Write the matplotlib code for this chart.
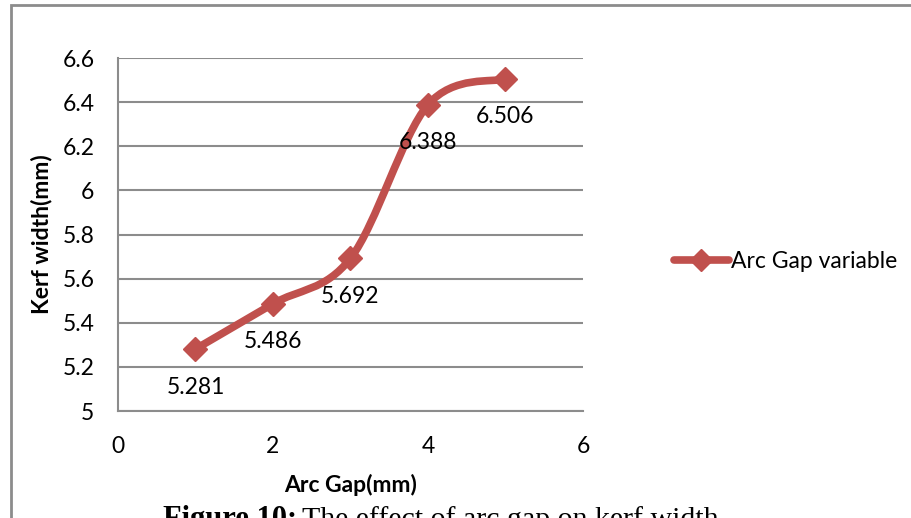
import matplotlib.pyplot as plt
from matplotlib.path import Path
from matplotlib.patches import PathPatch, Rectangle
import numpy as np

arc_gap = [1, 2, 3, 4, 5]
kerf_width = [5.281, 5.486, 5.692, 6.388, 6.506]
series_name = "Arc Gap variable"
x_ticks = [0, 2, 4, 6]
y_ticks = [5, 5.2, 5.4, 5.6, 5.8, 6, 6.2, 6.4, 6.6]

RED = "#C0504D"
GRID = "#8C8C8C"
FS = 16.5

plt.rcParams["font.family"] = ["Lato", "DejaVu Sans"]


def smooth_path(xs, ys):
    # Catmull-Rom style bezier segments, like a spreadsheet "smoothed line"
    pts = np.column_stack([xs, ys]).astype(float)
    n = len(pts)
    verts = [pts[0]]
    codes = [Path.MOVETO]
    for i in range(n - 1):
        p0 = pts[i - 1] if i > 0 else pts[i]
        p1 = pts[i]
        p2 = pts[i + 1]
        p3 = pts[i + 2] if i + 2 < n else pts[i + 1]
        c1 = p1 + (p2 - p0) / 6.0
        c2 = p2 - (p3 - p1) / 6.0
        verts += [c1, c2, p2]
        codes += [Path.CURVE4] * 3
    return Path(verts, codes)


fig = plt.figure(figsize=(9.12, 5.18), dpi=100)
ax = fig.add_axes([118 / 912, 1 - 411 / 518, (583 - 118) / 912, (411 - 58) / 518])

ax.set_xlim(0, 6)
ax.set_ylim(5, 6.6)
ax.set_xticks(x_ticks)
ax.set_yticks(y_ticks)
ax.set_yticklabels([f"{v:g}" for v in y_ticks])
ax.tick_params(length=0, labelsize=FS)
ax.tick_params(axis="y", pad=17)
ax.tick_params(axis="x", pad=18)
ax.grid(axis="y", color=GRID, linewidth=1.5)
ax.set_axisbelow(True)
for side in ["top", "right"]:
    ax.spines[side].set_visible(False)
for side in ["left", "bottom"]:
    ax.spines[side].set_color(GRID)
    ax.spines[side].set_linewidth(1.5)

ax.add_patch(PathPatch(smooth_path(arc_gap, kerf_width), facecolor="none",
                       edgecolor=RED, linewidth=5.5, capstyle="round", zorder=3))
ax.plot(arc_gap, kerf_width, linestyle="none", marker="D", markersize=12,
        color=RED, zorder=4)
# legend handle only
ax.plot([], [], color=RED, linewidth=5.5, marker="D", markersize=11,
        solid_capstyle="round", label=series_name)

for x, y in zip(arc_gap, kerf_width):
    ax.annotate(f"{y:.3f}", (x, y), xytext=(0, -38), textcoords="offset pixels",
                ha="center", va="center", fontsize=FS, zorder=5)

ax.set_xlabel("Arc Gap(mm)", fontsize=FS, fontweight="bold", labelpad=12)
ax.set_ylabel("Kerf width(mm)", fontsize=FS, fontweight="bold", labelpad=7)

leg = fig.legend(loc="center left", bbox_to_anchor=(653 / 912, 1 - 262 / 518),
                 frameon=False, fontsize=FS, handlelength=2.4, handletextpad=0.1)

# chart frame
fig.add_artist(Rectangle((11 / 912, -0.1), 1.2, 1 - 5 / 518 + 0.1,
                         transform=fig.transFigure, fill=False,
                         edgecolor="#8C8C8C", linewidth=2))

fig.text(163 / 912, 1 - 527 / 518, "Figure 10:", fontsize=22, fontweight="bold",
         family="Liberation Serif", va="baseline")
fig.text(302 / 912, 1 - 527 / 518, "The effect of arc gap on kerf width",
         fontsize=21.5, family="Liberation Serif", va="baseline")

fig.savefig("out.png", dpi=100)
